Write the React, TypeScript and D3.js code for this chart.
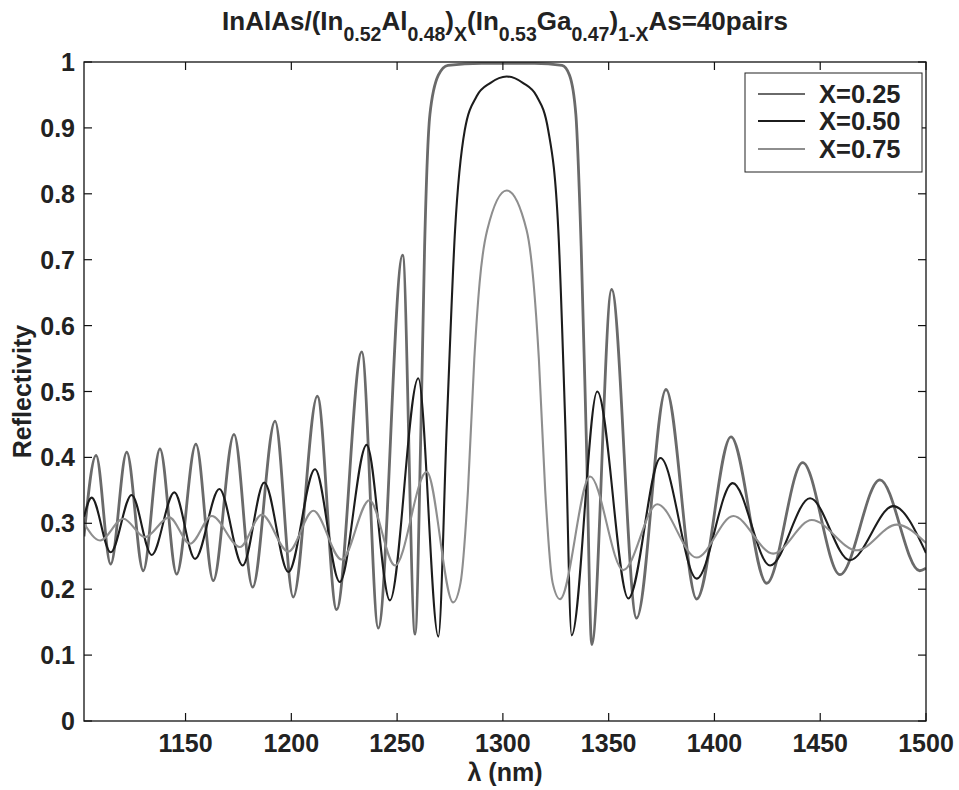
import React from "react";
import * as d3 from "d3";

// ---------- data ----------
const seriesNames = ["X=0.25", "X=0.50", "X=0.75"];

const lambda25 = [1102, 1107.7, 1114.6, 1122.2, 1130.0, 1137.9, 1145.8, 1154.9, 1163.1, 1172.9, 1181.7, 1192.3, 1200.9, 1212.3, 1221.4, 1233.3, 1241.1, 1252.6, 1258.5, 1261.3, 1263.0, 1265.5, 1269.5, 1274, 1290, 1315, 1328, 1331.5, 1334.5, 1337, 1339.5, 1342, 1351.4, 1363.2, 1377.1, 1391.6, 1407.8, 1424.7, 1441.7, 1459.3, 1478.2, 1497.0, 1500];
const refl25 = [0.28, 0.403, 0.238, 0.408, 0.228, 0.413, 0.223, 0.42, 0.213, 0.435, 0.203, 0.455, 0.188, 0.493, 0.169, 0.56, 0.141, 0.707, 0.132, 0.45, 0.72, 0.92, 0.98, 0.995, 0.998, 0.998, 0.995, 0.98, 0.92, 0.72, 0.42, 0.116, 0.655, 0.156, 0.503, 0.185, 0.431, 0.209, 0.392, 0.222, 0.366, 0.228, 0.232];

const lambda50 = [1102, 1105.6, 1114.6, 1124.5, 1134.0, 1144.7, 1154.5, 1166.0, 1177.0, 1187.2, 1198.6, 1211.2, 1222.9, 1235.6, 1246.6, 1260.0, 1269.5, 1273.5, 1277.4, 1282.0, 1287.6, 1294.0, 1301.8, 1309.6, 1316.0, 1321.4, 1326.2, 1329.5, 1332.5, 1344.6, 1359.3, 1374.5, 1391.6, 1408.6, 1426.3, 1445.2, 1464.0, 1484.5, 1500];
const refl50 = [0.31, 0.339, 0.256, 0.343, 0.252, 0.347, 0.246, 0.352, 0.236, 0.362, 0.226, 0.382, 0.211, 0.419, 0.183, 0.52, 0.128, 0.45, 0.745, 0.897, 0.948, 0.968, 0.978, 0.968, 0.948, 0.897, 0.745, 0.45, 0.13, 0.5, 0.186, 0.399, 0.216, 0.361, 0.236, 0.338, 0.244, 0.326, 0.255];

const lambda75 = [1102, 1109.6, 1120.6, 1130.8, 1142.3, 1152.1, 1162.4, 1175.7, 1186.0, 1198.6, 1210.4, 1223.8, 1236.9, 1249.0, 1264.0, 1276.5, 1280.0, 1283.5, 1286.5, 1289.0, 1292.6, 1301.8, 1311.2, 1314.5, 1317.0, 1320.0, 1323.5, 1327.0, 1341.2, 1356.9, 1373.0, 1391.6, 1408.9, 1427.8, 1446.0, 1467.3, 1486.2, 1500];
const refl75 = [0.3, 0.274, 0.307, 0.279, 0.309, 0.269, 0.311, 0.264, 0.313, 0.257, 0.319, 0.245, 0.335, 0.236, 0.378, 0.18, 0.21, 0.35, 0.55, 0.665, 0.745, 0.805, 0.745, 0.665, 0.55, 0.35, 0.21, 0.185, 0.371, 0.229, 0.329, 0.248, 0.311, 0.254, 0.305, 0.259, 0.298, 0.27];

const xTicks = [1150, 1200, 1250, 1300, 1350, 1400, 1450, 1500];
const yTicks = [0, 0.1, 0.2, 0.3, 0.4, 0.5, 0.6, 0.7, 0.8, 0.9, 1];

// ---------- layout ----------
const W = 959, H = 790;
const L = 84, R = 926, T = 62, B = 721;
const colors = ["#6a6a6a", "#1c1c1c", "#8e8e8e"];
const widths = [2.8, 2.1, 2.1];
const FONT = "'Liberation Sans', Arial, Helvetica, sans-serif";

export default function App() {
  const x = d3.scaleLinear().domain([1102, 1500]).range([L, R]);
  const y = d3.scaleLinear().domain([0, 1]).range([B, T]);

  const series = [
    { xs: lambda25, ys: refl25 },
    { xs: lambda50, ys: refl50 },
    { xs: lambda75, ys: refl75 },
  ];
  const mk = (xs: number[], ys: number[]) =>
    d3
      .line<number>()
      .x((_, i) => x(xs[i]))
      .y((_, i) => y(ys[i]))
      .curve(d3.curveMonotoneX)(xs as any) as string;

  const tickLen = 8;
  const legX = 745, legY = 73, legW = 177, legH = 99;
  const rowY = [94, 121, 149];
  const SUB = 19.5;
  const DY = 11;

  return (
    <svg
      width={W}
      height={H}
      style={{ position: "absolute", left: 0, top: 0, background: "#fff" }}
      fontFamily={FONT}
    >
      <rect x={0} y={0} width={W} height={H} fill="#fff" />
      <defs>
        <clipPath id="plotclip">
          <rect x={L} y={T - 3} width={R - L} height={B - T + 3} />
        </clipPath>
      </defs>

      {/* curves */}
      <g clipPath="url(#plotclip)">
        {series.map((s, i) => (
          <path
            key={i}
            d={mk(s.xs, s.ys)}
            fill="none"
            stroke={colors[i]}
            strokeWidth={widths[i]}
            strokeLinejoin="round"
          />
        ))}
      </g>

      {/* axes box */}
      <rect x={L} y={T} width={R - L} height={B - T} fill="none" stroke="#111" strokeWidth={1.3} />

      {/* x ticks */}
      {xTicks.map((t) => (
        <g key={"x" + t}>
          <line x1={x(t)} x2={x(t)} y1={B} y2={B - tickLen} stroke="#111" strokeWidth={1.2} />
          <line x1={x(t)} x2={x(t)} y1={T} y2={T + tickLen} stroke="#111" strokeWidth={1.2} />
          <text x={x(t)} y={752} textAnchor="middle" fontSize={25} fontWeight="bold" fill="#222">
            {t}
          </text>
        </g>
      ))}

      {/* y ticks */}
      {yTicks.map((t) => (
        <g key={"y" + t}>
          <line x1={L} x2={L + tickLen} y1={y(t)} y2={y(t)} stroke="#111" strokeWidth={1.2} />
          <line x1={R} x2={R - tickLen} y1={y(t)} y2={y(t)} stroke="#111" strokeWidth={1.2} />
          <text x={L - 9} y={y(t) + 9} textAnchor="end" fontSize={25} fontWeight="bold" fill="#222">
            {d3.format("~g")(t)}
          </text>
        </g>
      ))}

      {/* axis labels */}
      <text x={(L + R) / 2} y={781} textAnchor="middle" fontSize={25} fontWeight="bold" fill="#222">
        λ (nm)
      </text>
      <text
        transform={`translate(31, ${(T + B) / 2}) rotate(-90)`}
        textAnchor="middle"
        fontSize={25}
        fontWeight="bold"
        fill="#222"
      >
        Reflectivity
      </text>

      {/* title */}
      <text x={(L + R) / 2} y={30} textAnchor="middle" fontSize={26} fontWeight="bold" fill="#222">
        <tspan>InAlAs/(In</tspan>
        <tspan fontSize={SUB} dy={DY}>0.52</tspan>
        <tspan dy={-DY}>Al</tspan>
        <tspan fontSize={SUB} dy={DY}>0.48</tspan>
        <tspan dy={-DY}>)</tspan>
        <tspan fontSize={SUB} dy={DY}>X</tspan>
        <tspan dy={-DY}>(In</tspan>
        <tspan fontSize={SUB} dy={DY}>0.53</tspan>
        <tspan dy={-DY}>Ga</tspan>
        <tspan fontSize={SUB} dy={DY}>0.47</tspan>
        <tspan dy={-DY}>)</tspan>
        <tspan fontSize={SUB} dy={DY}>1-X</tspan>
        <tspan dy={-DY}>As=40pairs</tspan>
      </text>

      {/* legend */}
      <rect x={legX} y={legY} width={legW} height={legH} fill="#fff" stroke="#222" strokeWidth={1} />
      {seriesNames.map((n, i) => (
        <g key={n}>
          <line x1={758} x2={805} y1={rowY[i]} y2={rowY[i]} stroke={colors[i]} strokeWidth={2} />
          <text x={819} y={rowY[i] + 9} fontSize={25.5} fontWeight="bold" fill="#222">
            {n}
          </text>
        </g>
      ))}
    </svg>
  );
}
